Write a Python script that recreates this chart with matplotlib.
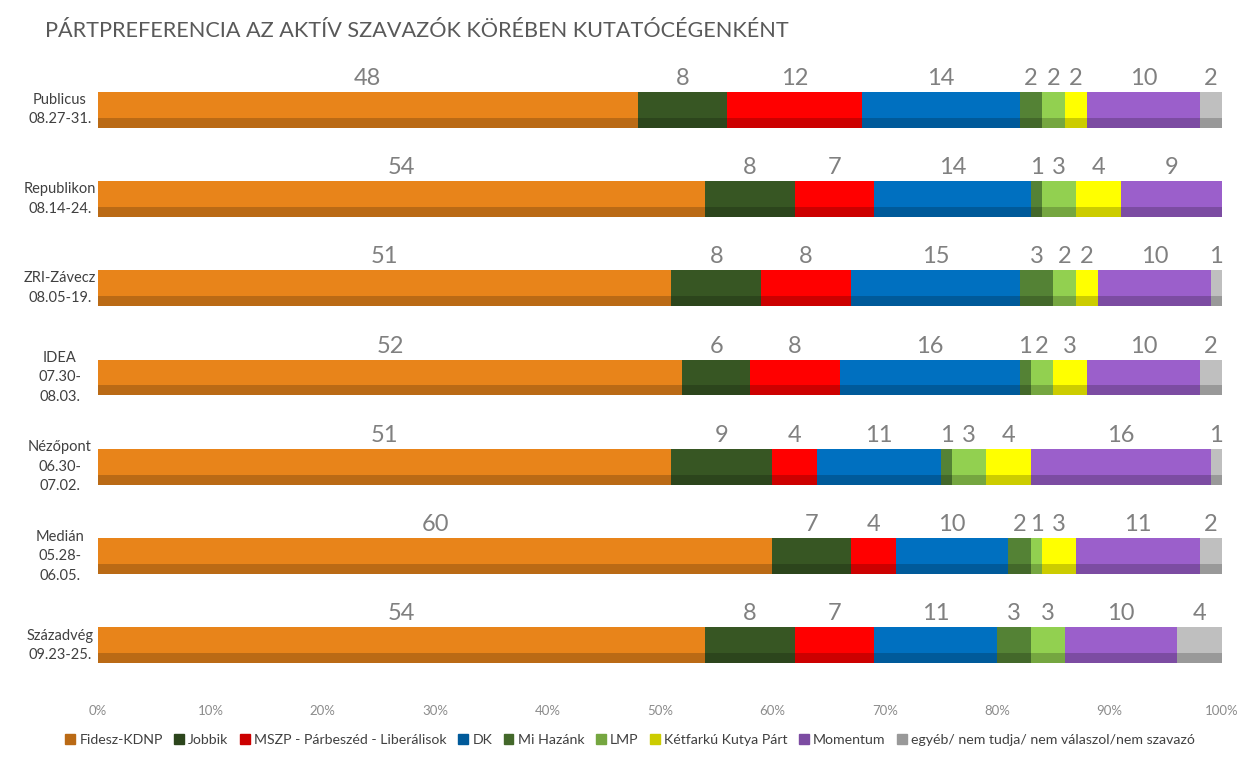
import matplotlib.pyplot as plt
import matplotlib.colors as mcolors
from matplotlib.patches import Patch
from matplotlib.ticker import PercentFormatter

plt.rcParams['font.family'] = ['Lato', 'DejaVu Sans']

pollsters = ['Publicus\n08.27-31.', 'Republikon\n08.14-24.', 'ZRI-Závecz\n08.05-19.',
             'IDEA\n07.30-\n08.03.', 'Nézőpont\n06.30-\n07.02.', 'Medián\n05.28-\n06.05.',
             'Századvég\n09.23-25.']
parties = ['Fidesz-KDNP', 'Jobbik', 'MSZP - Párbeszéd - Liberálisok', 'DK', 'Mi Hazánk',
           'LMP', 'Kétfarkú Kutya Párt', 'Momentum', 'egyéb/ nem tudja/ nem válaszol/nem szavazó']

fidesz = [48, 54, 51, 52, 51, 60, 54]
jobbik = [8, 8, 8, 6, 9, 7, 8]
mszp = [12, 7, 8, 8, 4, 4, 7]
dk = [14, 14, 15, 16, 11, 10, 11]
mihazank = [2, 1, 3, 1, 1, 2, 3]
lmp = [2, 3, 2, 2, 3, 1, 3]
mkkp = [2, 4, 2, 3, 4, 3, 0]
momentum = [10, 9, 10, 10, 16, 11, 10]
egyeb = [2, 0, 1, 2, 1, 2, 4]
series = [fidesz, jobbik, mszp, dk, mihazank, lmp, mkkp, momentum, egyeb]

top_colors = ['#E8841A', '#375623', '#FF0000', '#0070C0', '#548235',
              '#92D050', '#FFFF00', '#9B5FCB', '#BFBFBF']


def darker(c, f=0.8):
    r, g, b = mcolors.to_rgb(c)
    return (r * f, g * f, b * f)


dark_colors = [darker(c) for c in top_colors]

fig = plt.figure(figsize=(12.54, 7.62), dpi=100)
ax = fig.add_axes([98 / 1254, 1 - 690 / 762, 1124 / 1254, 625 / 762])

bar_h = 0.403
stripe = bar_h * 0.28
rows = list(range(len(pollsters)))
left = [0.0] * len(rows)
for vals, c_top, c_dark in zip(series, top_colors, dark_colors):
    w = [v / 100 for v in vals]
    ax.barh(rows, w, left=left, height=bar_h, color=c_top, linewidth=0)
    ax.barh([r + bar_h / 2 - stripe / 2 for r in rows], w, left=left, height=stripe,
            color=c_dark, linewidth=0)
    for r, v, l in zip(rows, vals, left):
        if v > 0:
            ax.text(l + v / 200, r - bar_h / 2 - 0.15, str(v), ha='center', va='center',
                    fontsize=17, color='#808080')
    left = [l + x for l, x in zip(left, w)]

ax.set_xlim(0, 1)
ax.set_ylim(6.5, -0.5)
ax.xaxis.set_major_formatter(PercentFormatter(1.0, decimals=0))
ax.set_xticks([i / 10 for i in range(11)])
ax.tick_params(axis='x', length=0, pad=11, labelsize=9.5, labelcolor='#8C8C8C')
ax.set_yticks([])
for s in ax.spines.values():
    s.set_visible(False)

for r, name in zip(rows, pollsters):
    y = 1 - (65 + (r + 0.5) * 625 / 7) / 762
    fig.text(60 / 1254, y, name, ha='center', va='center', multialignment='center',
             fontsize=10.5, color='#404040', linespacing=1.5)

fig.text(45 / 1254, 1 - 31 / 762, 'PÁRTPREFERENCIA AZ AKTÍV SZAVAZÓK KÖRÉBEN KUTATÓCÉGENKÉNT',
         ha='left', va='center', fontsize=15.6, color='#595959')

handles = [Patch(color=c) for c in dark_colors]
fig.legend(handles, parties, loc='center', bbox_to_anchor=(630 / 1254, 1 - 740 / 762), ncol=9,
           frameon=False, fontsize=10.2, handlelength=0.7, handleheight=0.7,
           handletextpad=0.3, columnspacing=0.8, labelcolor='#404040')

fig.savefig('out.png', dpi=100)
